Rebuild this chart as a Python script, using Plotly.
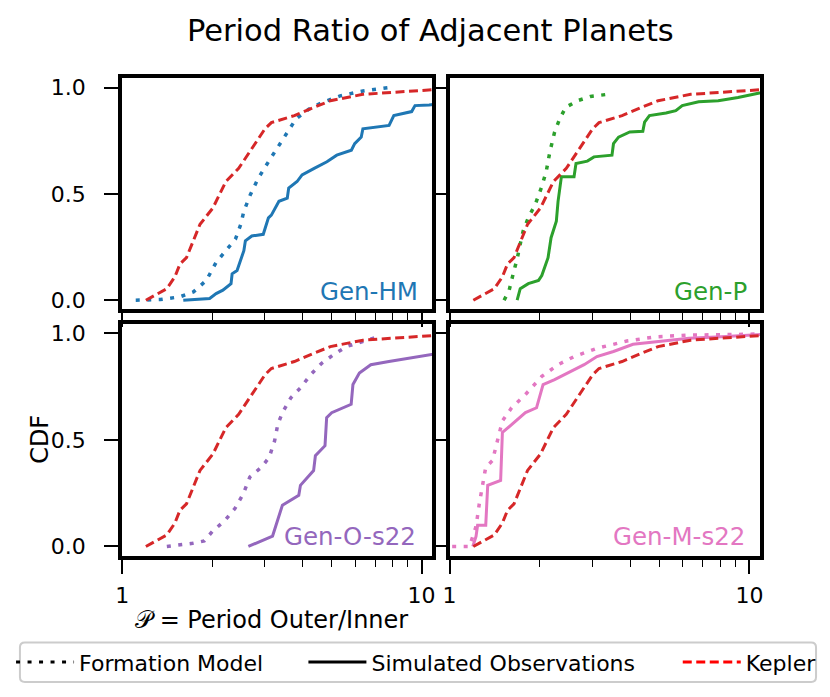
import plotly.graph_objects as go

# Kepler observed period ratios (same curve in every panel)
kepler_p = [1.20, 1.41, 1.50, 1.56, 1.64, 1.82, 2.01, 2.22, 2.45, 2.71, 3.00, 3.15, 3.24,
            3.76, 4.37, 4.96, 6.37, 10.5, 14.0]
kepler_cdf = [0.0, 0.054, 0.11, 0.17, 0.20, 0.357, 0.434, 0.558, 0.62, 0.713, 0.806, 0.835, 0.84,
              0.868, 0.907, 0.938, 0.968, 0.984, 1.0]

# Gen-HM
hm_model_p = [1.11, 1.34, 1.56, 1.73, 1.91, 2.06, 2.22, 2.39, 2.49, 2.55, 2.68, 2.85, 3.08,
              3.32, 3.53, 3.81, 4.21, 4.66, 5.35, 6.37, 7.8]
hm_model_cdf = [0.0, 0.003, 0.016, 0.039, 0.093, 0.178, 0.233, 0.287, 0.357, 0.419, 0.496, 0.574, 0.651,
                0.721, 0.783, 0.853, 0.899, 0.93, 0.961, 0.984, 1.0]
hm_obs_p = [1.60, 1.96, 2.06, 2.17, 2.31, 2.33, 2.42, 2.49, 2.55, 2.58, 2.71, 2.96, 3.08, 3.15,
            3.34, 3.56, 3.60, 3.84, 3.99, 4.38, 4.83, 5.21, 5.83, 5.98, 6.29, 6.37, 7.79, 8.08,
            9.27, 9.51, 10.6, 13.0]
hm_obs_cdf = [0.0, 0.008, 0.031, 0.047, 0.078, 0.124, 0.14, 0.186, 0.233, 0.279, 0.302, 0.31, 0.387, 0.40,
              0.465, 0.48, 0.527, 0.558, 0.589, 0.62, 0.651, 0.682, 0.705, 0.736, 0.767, 0.806, 0.822, 0.868,
              0.887, 0.915, 0.918, 0.93]

# Gen-P
p_model_p = [1.52, 1.58, 1.64, 1.68, 1.72, 1.76, 1.83, 1.93, 2.03, 2.10, 2.16, 2.24, 2.33,
             2.44, 2.67, 2.95, 3.45]
p_model_cdf = [0.0, 0.047, 0.14, 0.194, 0.264, 0.326, 0.388, 0.45, 0.535, 0.605, 0.698, 0.791, 0.853,
               0.907, 0.938, 0.958, 0.97]
p_obs_p = [1.68, 1.72, 1.83, 1.98, 2.03, 2.13, 2.18, 2.27, 2.30, 2.36, 2.60, 2.64, 2.88, 3.03,
           3.48, 3.52, 3.66, 3.99, 4.41, 4.47, 4.64, 5.27, 5.68, 5.97, 6.77, 7.87, 9.16, 10.8, 13.0]
p_obs_cdf = [0.0, 0.054, 0.078, 0.093, 0.116, 0.20, 0.294, 0.372, 0.465, 0.581, 0.581, 0.643, 0.654, 0.674,
             0.682, 0.736, 0.767, 0.791, 0.794, 0.837, 0.868, 0.88, 0.891, 0.915, 0.933, 0.938, 0.953, 0.974, 0.985]

# Gen-O-s22
o_model_p = [1.41, 1.72, 1.88, 2.00, 2.21, 2.38, 2.54, 2.67, 2.92, 3.10, 3.23, 3.31, 3.43,
             3.66, 3.94, 4.26, 4.64, 5.07, 5.61, 6.36, 7.21]
o_model_cdf = [0.0, 0.015, 0.026, 0.07, 0.124, 0.178, 0.248, 0.326, 0.372, 0.419, 0.496, 0.573, 0.628,
               0.698, 0.744, 0.806, 0.86, 0.899, 0.938, 0.961, 0.985]
o_obs_p = [2.64, 3.18, 3.43, 3.89, 3.94, 4.36, 4.42, 4.76, 4.82, 5.01, 5.82, 5.90, 6.20, 6.77,
           7.78, 9.27, 10.65, 13.0]
o_obs_cdf = [0.0, 0.049, 0.194, 0.24, 0.287, 0.356, 0.426, 0.473, 0.605, 0.628, 0.667, 0.76, 0.814, 0.853,
             0.868, 0.887, 0.902, 0.92]

# Gen-M-s22
m_model_p = [1.02, 1.165, 1.225, 1.256, 1.32, 1.39, 1.50, 1.61, 1.79, 2.03, 2.30, 2.60, 3.10,
             3.90, 4.88, 6.28, 9.16, 13.0]
m_model_cdf = [0.0, 0.0, 0.094, 0.20, 0.372, 0.403, 0.589, 0.651, 0.713, 0.798, 0.853, 0.891, 0.93,
               0.964, 0.984, 0.992, 0.995, 1.0]
m_obs_p = [1.195, 1.225, 1.24, 1.32, 1.34, 1.48, 1.50, 1.61, 1.79, 1.95, 2.00, 2.05, 2.24, 2.48,
           2.81, 3.10, 3.52, 4.09, 4.88, 6.28, 8.07, 10.8, 13.0]
m_obs_cdf = [0.0, 0.047, 0.10, 0.10, 0.287, 0.31, 0.535, 0.573, 0.628, 0.651, 0.705, 0.76, 0.783, 0.814,
             0.853, 0.891, 0.915, 0.949, 0.961, 0.977, 0.984, 0.995, 1.0]

panel_names = ["Gen-HM", "Gen-P", "Gen-O-s22", "Gen-M-s22"]
panel_colors = ["#1f77b4", "#2ca02c", "#9467bd", "#e377c2"]
model_p = [hm_model_p, p_model_p, o_model_p, m_model_p]
model_cdf = [hm_model_cdf, p_model_cdf, o_model_cdf, m_model_cdf]
obs_p = [hm_obs_p, p_obs_p, o_obs_p, m_obs_p]
obs_cdf = [hm_obs_cdf, p_obs_cdf, o_obs_cdf, m_obs_cdf]

KEPLER_RED = "#d62728"
FONT = "DejaVu Sans"
DOT = "4px,7.5px"
DASH = "9px,4.5px"

# page has an 8px body margin, so the figure is shrunk to fit the window
PAD = 8
W, H = 830 - 2 * PAD, 697 - 2 * PAD


def fx(px):
    return (px - PAD) / W


def fy(py):
    return 1 - (py - PAD) / H


fig = go.Figure()

suffixes = ["", "2", "3", "4"]
for i, sfx in enumerate(suffixes):
    xa, ya = "x" + sfx, "y" + sfx
    fig.add_trace(go.Scatter(x=model_p[i], y=model_cdf[i], mode="lines", xaxis=xa, yaxis=ya,
                             line=dict(color=panel_colors[i], width=3.5, dash=DOT), showlegend=False))
    fig.add_trace(go.Scatter(x=obs_p[i], y=obs_cdf[i], mode="lines", xaxis=xa, yaxis=ya,
                             line=dict(color=panel_colors[i], width=3), showlegend=False))
    fig.add_trace(go.Scatter(x=kepler_p, y=kepler_cdf, mode="lines", xaxis=xa, yaxis=ya,
                             line=dict(color=KEPLER_RED, width=3, dash=DASH), showlegend=False))

# legend entries
fig.add_trace(go.Scatter(x=[None], y=[None], mode="lines", name="Formation Model", legend="legend",
                         line=dict(color="black", width=3, dash=DOT)))
fig.add_trace(go.Scatter(x=[None], y=[None], mode="lines", name="Simulated Observations", legend="legend2",
                         line=dict(color="black", width=3)))
fig.add_trace(go.Scatter(x=[None], y=[None], mode="lines", name="Kepler", legend="legend3",
                         line=dict(color="red", width=3, dash=DASH)))

# panel boxes in screen pixels
x_doms = [(116.5, 430.5), (448, 762.5)]
y_doms = [(76, 309), (324, 557.5)]

for i, sfx in enumerate(suffixes):
    row, col = divmod(i, 2)
    fig.update_layout({
        "xaxis" + sfx: dict(
            domain=[fx(x_doms[col][0]), fx(x_doms[col][1])], anchor="y" + sfx,
            type="log", range=[0, 1.036],
            tickmode="array", tickvals=[1, 10], ticktext=["1", "10"],
            ticks="outside", ticklen=14, tickwidth=1.6, tickcolor="black",
            showline=True, linecolor="black", linewidth=4, mirror=True,
            showgrid=False, zeroline=False, showticklabels=(row == 1),
            tickfont=dict(family=FONT, size=22, color="black"), ticklabelstandoff=3,
            minor=dict(tickmode="array", tickvals=[2, 3, 4, 5, 6, 7, 8, 9], ticks="outside",
                       ticklen=7, tickwidth=1.4, tickcolor="black", showgrid=False),
        ),
        "yaxis" + sfx: dict(
            domain=[fy(y_doms[row][1]), fy(y_doms[row][0])], anchor="x" + sfx,
            range=[-0.043, 1.043],
            tickmode="array", tickvals=[0, 0.5, 1.0], ticktext=["0.0", "0.5", "1.0"],
            ticks="outside", ticklen=14, tickwidth=1.6, tickcolor="black",
            showline=True, linecolor="black", linewidth=4, mirror=True,
            showgrid=False, zeroline=False, showticklabels=(col == 0),
            tickfont=dict(family=FONT, size=22, color="black"), ticklabelstandoff=14,
        ),
    })

# panel labels
label_pos = [(418, 291), (751, 291), (416, 538), (749, 538)]
for i, (lx, ly) in enumerate(label_pos):
    fig.add_annotation(text=panel_names[i], x=fx(lx), y=fy(ly), xref="paper", yref="paper",
                       xanchor="right", yanchor="middle", showarrow=False,
                       font=dict(family=FONT, size=24.5, color=panel_colors[i]))

fig.add_annotation(text="Period Ratio of Adjacent Planets", x=fx(428.5), y=fy(28),
                   xref="paper", yref="paper", xanchor="center", yanchor="middle", showarrow=False,
                   font=dict(family=FONT, size=30.5, color="black"))
fig.add_annotation(text="\U0001D4AB = Period Outer/Inner", x=fx(268), y=fy(622),
                   xref="paper", yref="paper", xanchor="center", yanchor="middle", showarrow=False,
                   font=dict(family=FONT, size=24, color="black"))
fig.add_annotation(text="CDF", x=fx(34), y=fy(440), textangle=-90,
                   xref="paper", yref="paper", xanchor="center", yanchor="middle", showarrow=False,
                   font=dict(family=FONT, size=24, color="black"))

# legend frame (rounded box)
x0, x1, y0, y1 = fx(13), fx(819), fy(685), fy(645)
rx, ry = 5 / W, 5 / H
frame = (f"M{x0 + rx},{y1} L{x1 - rx},{y1} Q{x1},{y1} {x1},{y1 - ry} L{x1},{y0 + ry} "
         f"Q{x1},{y0} {x1 - rx},{y0} L{x0 + rx},{y0} Q{x0},{y0} {x0},{y0 + ry} "
         f"L{x0},{y1 - ry} Q{x0},{y1} {x0 + rx},{y1} Z")
fig.add_shape(type="path", path=frame, xref="paper", yref="paper",
              line=dict(color="#cccccc", width=2), fillcolor="white", layer="below")

leg_common = dict(orientation="h", yanchor="middle", y=fy(665), xanchor="left",
                  bgcolor="rgba(0,0,0,0)", borderwidth=0, itemwidth=58,
                  font=dict(family=FONT, size=22, color="black"))
fig.update_layout(
    width=W, height=H, autosize=False,
    margin=dict(l=0, r=0, t=0, b=0),
    plot_bgcolor="white", paper_bgcolor="white",
    legend=dict(x=fx(4), **leg_common),
    legend2=dict(x=fx(300), **leg_common),
    legend3=dict(x=fx(679), **leg_common),
)

fig.write_html("out.html")
